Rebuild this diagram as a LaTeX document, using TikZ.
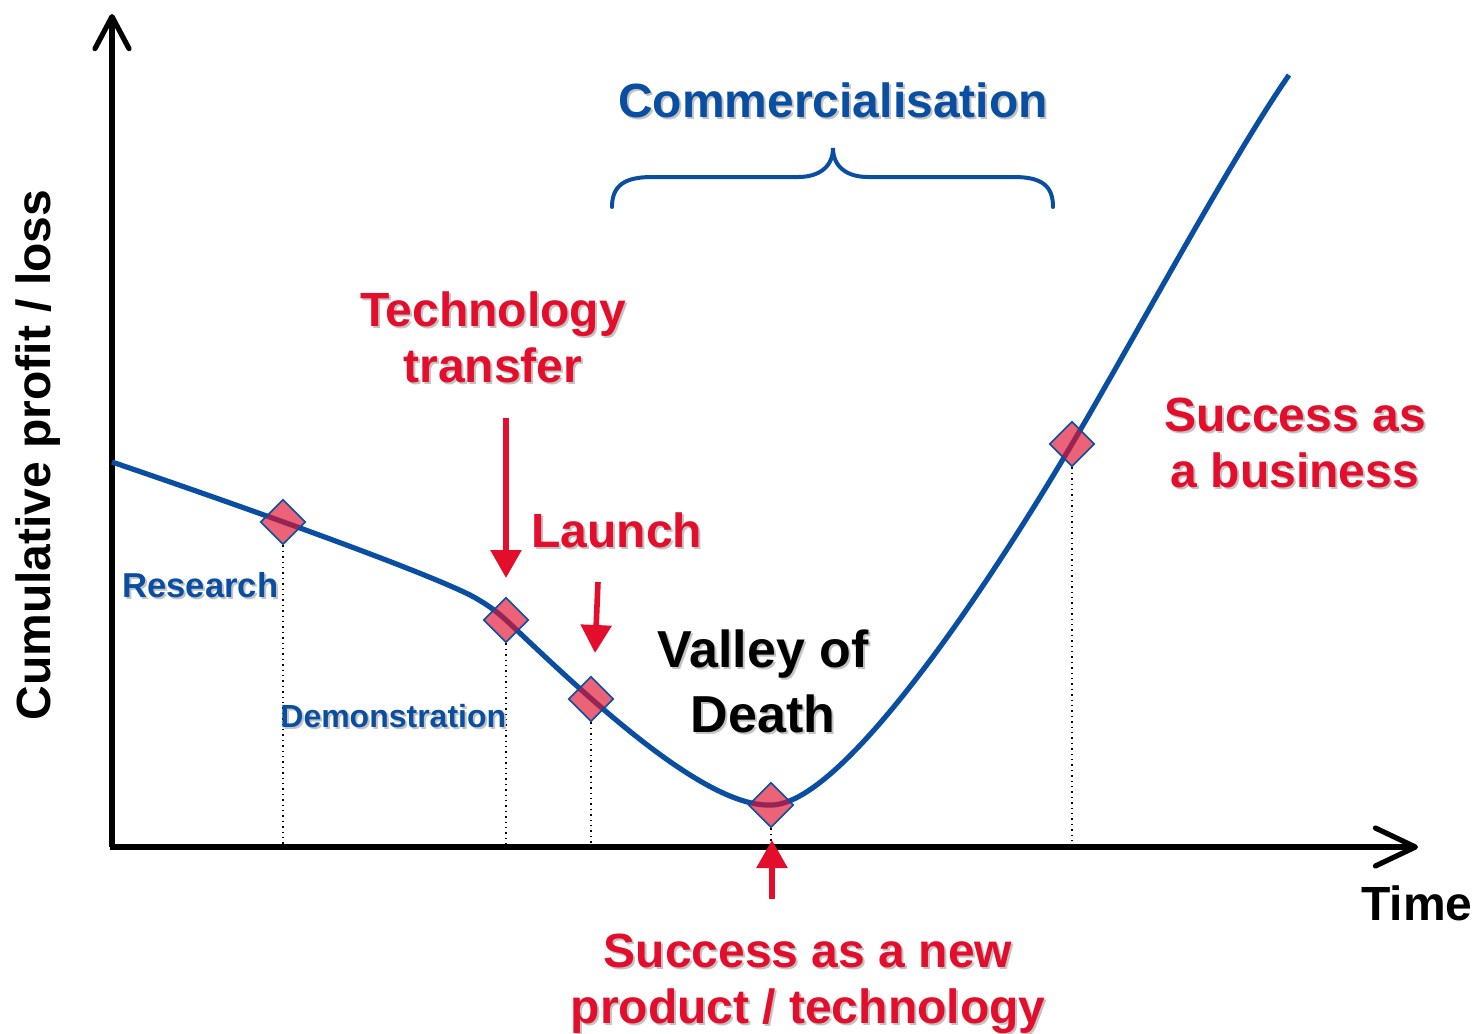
\documentclass[tikz,border=0pt]{standalone}
\usepackage{fontspec}
\setmainfont{Liberation Sans}
\usetikzlibrary{positioning,arrows.meta,shapes.geometric,calc}

\definecolor{curveblue}{RGB}{10,78,162}
\definecolor{alertred}{RGB}{226,14,44}
\definecolor{shadowgray}{RGB}{195,195,195}
\newcommand{\sh}[1]{\rlap{\kern1pt\raisebox{-1pt}{\textcolor{shadowgray}{#1}}}#1}

\begin{document}
\begin{tikzpicture}[x=0.5pt, y=-0.5pt,
    yaxis/.style={line width=2.6pt, -{Straight Barb[length=16pt,width=17pt,round]}},
    xaxis/.style={line width=2.6pt, -{Straight Barb[length=20pt,width=19pt,round]}},
    curve/.style={curveblue, line width=2.6pt},
    marker/.style={diamond, draw=curveblue, line width=0.8pt, fill=alertred, fill opacity=0.65, minimum size=22.5pt, inner sep=0pt},
    guide/.style={dotted, line width=0.7pt},
    pointer/.style={alertred, line width=2.8pt, -{Triangle[length=14pt,width=15pt]}},
    bigred/.style={text=alertred, font=\bfseries\fontsize{24}{28}\selectfont, align=center, inner sep=0pt},
    smallblue/.style={text=curveblue, inner sep=0pt},
    axislabel/.style={font=\bfseries\fontsize{24}{28}\selectfont, inner sep=0pt}]

    \useasboundingbox (0,0) rectangle (1477,1033);

    % axes
    \coordinate (origin) at (112,847);
    \coordinate (xstart) at (109.5,847);
    \coordinate (ytop) at (112,14);
    \coordinate (xend) at (1418,847);
    \draw[yaxis] (origin) -- (ytop);
    \draw[xaxis] (xstart) -- (xend);

    % profit curve
    \draw[curve] (112,462) .. controls (250,509) and (420,570) .. (470,595)
        .. controls (485,603) and (495,610) .. (506,620)
        .. controls (570,680) and (700,808) .. (771,805)
        .. controls (840,805) and (980,600) .. (1072,444)
        .. controls (1130,346) and (1230,160) .. (1289,75);

    % milestones
    \node[marker] (res) at (283,522) {};
    \node[marker] (demo) at (506,620) {};
    \node[marker] (launch) at (591,699) {};
    \node[marker] (valley) at (771,805) {};
    \node[marker] (biz) at (1072,444) {};
    \foreach \m in {res,demo,launch,valley,biz}
        \draw[guide] (\m.south) -- (\m.south |- origin);

    % commercialisation brace
    \draw[curveblue, line width=2pt, line cap=round]
        (612,207) .. controls (612,186) and (624,177) .. (652,177) -- (798,177)
        .. controls (820,177) and (833,166) .. (833,148)
        .. controls (833,166) and (846,177) .. (868,177) -- (1014,177)
        .. controls (1042,177) and (1053,186) .. (1053,207);
    \node[text=curveblue, font=\bfseries\fontsize{24}{28}\selectfont, inner sep=0pt, anchor=base] (comm) at (833,117) {\sh{Commercialisation}};

    % red pointers
    \coordinate (ttail) at (506,418);
    \coordinate (ttip) at (506,578);
    \coordinate (ltail) at (598,582);
    \coordinate (ltip) at (595,653);
    \coordinate (stail) at (772,899);
    \coordinate (stip) at (772,840);
    \draw[pointer] (ttail) -- (ttip);
    \draw[pointer] (ltail) -- (ltip);
    \draw[pointer] (stail) -- (stip);

    % labels
    \node[bigred, anchor=base] (transfer) at (493,382) {\sh{Technology}\\\sh{transfer}};
    \node[bigred, anchor=base west] (launchtxt) at (531,547) {\sh{Launch}};
    \node[font=\bfseries\fontsize{26}{32.5}\selectfont, align=center, inner sep=0pt, anchor=base] (valleytxt) at (763,732) {\sh{Valley of}\\\sh{Death}};
    \node[bigred, anchor=base] (biztxt) at (1295,487) {\sh{Success as}\\\sh{a business}};
    \node[bigred, anchor=base] (newtxt) at (808,1023) {\sh{Success as a new}\\\sh{product / technology}};
    \node[smallblue, font=\bfseries\fontsize{17.3}{20}\selectfont, anchor=base west] (restxt) at (122,597) {\sh{Research}};
    \node[smallblue, font=\bfseries\fontsize{16}{20}\selectfont, anchor=base west] (demotxt) at (280,727) {\sh{Demonstration}};
    \node[axislabel, rotate=90, anchor=base] (ylabel) at (50,455) {Cumulative profit / loss};
    \node[axislabel, anchor=base] (timelabel) at (1417,920) {Time};

\end{tikzpicture}
\end{document}
